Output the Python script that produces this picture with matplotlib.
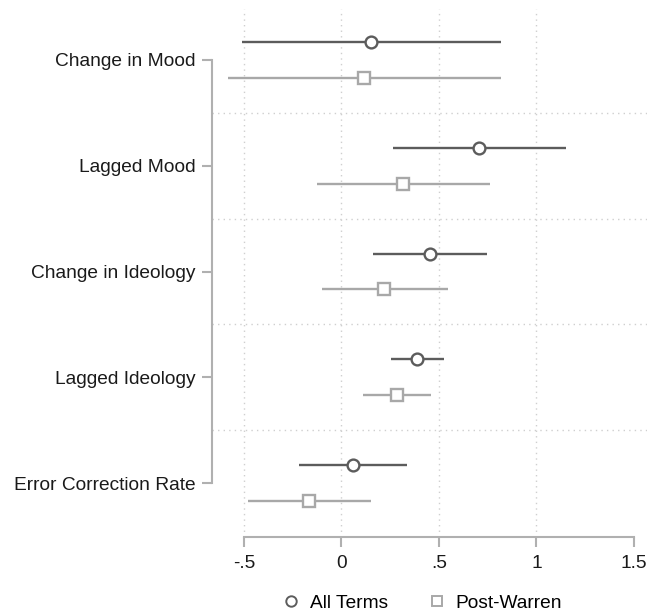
import matplotlib
matplotlib.use("Agg")
import matplotlib.pyplot as plt
from matplotlib.lines import Line2D
import numpy as np

plt.rcParams['font.family'] = ['Liberation Sans', 'DejaVu Sans']

categories = ["Change in Mood", "Lagged Mood", "Change in Ideology",
              "Lagged Ideology", "Error Correction Rate"]
all_est = [0.151, 0.707, 0.454, 0.389, 0.061]
all_lo = [-0.512, 0.266, 0.163, 0.252, -0.216]
all_hi = [0.818, 1.150, 0.748, 0.527, 0.337]
pw_est = [0.115, 0.317, 0.220, 0.283, -0.167]
pw_lo = [-0.580, -0.124, -0.102, 0.109, -0.481]
pw_hi = [0.818, 0.762, 0.544, 0.457, 0.150]
xticks = [-0.5, 0, 0.5, 1, 1.5]
xticklabels = ["-.5", "0", ".5", "1", "1.5"]
series_names = ["All Terms", "Post-Warren"]

W, H = 647, 616
top_px, bot_px = 9, 537
fig = plt.figure(figsize=(W / 100, H / 100), dpi=100)
ax = fig.add_axes([212 / W, (H - bot_px) / H, (W - 212) / W, (bot_px - top_px) / H])

c_all = "#5c5c5c"
c_pw = "#a8a8a8"
spine_c = "#b0b0b0"
grid_c = "#cfcfcf"

pos = np.arange(1, len(categories) + 1)
off = 0.17

ax.hlines(pos - off, all_lo, all_hi, color=c_all, lw=1.7, zorder=3)
ax.plot(all_est, pos - off, ls="none", marker="o", ms=8.5, mfc="white",
        mec=c_all, mew=1.7, zorder=4)
ax.hlines(pos + off, pw_lo, pw_hi, color=c_pw, lw=1.7, zorder=3)
ax.plot(pw_est, pos + off, ls="none", marker="s", ms=8.5, mfc="white",
        mec=c_pw, mew=1.7, zorder=4)

# grid (interior ticks only)
for xv in xticks[:-1]:
    ax.axvline(xv, color=grid_c, lw=1, ls=(0, (1, 3)), zorder=1)
for yv in pos[:-1] + 0.5:
    ax.axhline(yv, color=grid_c, lw=1, ls=(0, (1, 3)), zorder=1)

ax.set_xlim(-0.664, 1.567)
ax.set_ylim(1 + (bot_px - 60) / 105.75, 1 - (60 - top_px) / 105.75)

ax.set_xticks(xticks)
ax.set_xticklabels(xticklabels)
ax.set_yticks(pos)
ax.set_yticklabels(categories)

for s in ["top", "right"]:
    ax.spines[s].set_visible(False)
ax.spines["left"].set_bounds(1, 5)
ax.spines["bottom"].set_bounds(-0.5, 1.5)
for s in ["left", "bottom"]:
    ax.spines[s].set_color(spine_c)
    ax.spines[s].set_linewidth(1.5)

ax.tick_params(axis="both", colors=spine_c, width=1.5, length=7,
               labelcolor="#1a1a1a", labelsize=13.8)
ax.tick_params(axis="y", pad=5)
ax.tick_params(axis="x", pad=6)

handles = [
    Line2D([], [], ls="none", marker="o", ms=7.5, mfc="white", mec=c_all, mew=1.4),
    Line2D([], [], ls="none", marker="s", ms=7.5, mfc="white", mec=c_pw, mew=1.4),
]
fig.legend(handles, series_names, loc="center", ncol=2, frameon=False,
           bbox_to_anchor=(421 / W, 1 - 603 / H), fontsize=13.8,
           handletextpad=0.4, columnspacing=1.9, handlelength=1.2)

fig.savefig("out.png", dpi=100)
